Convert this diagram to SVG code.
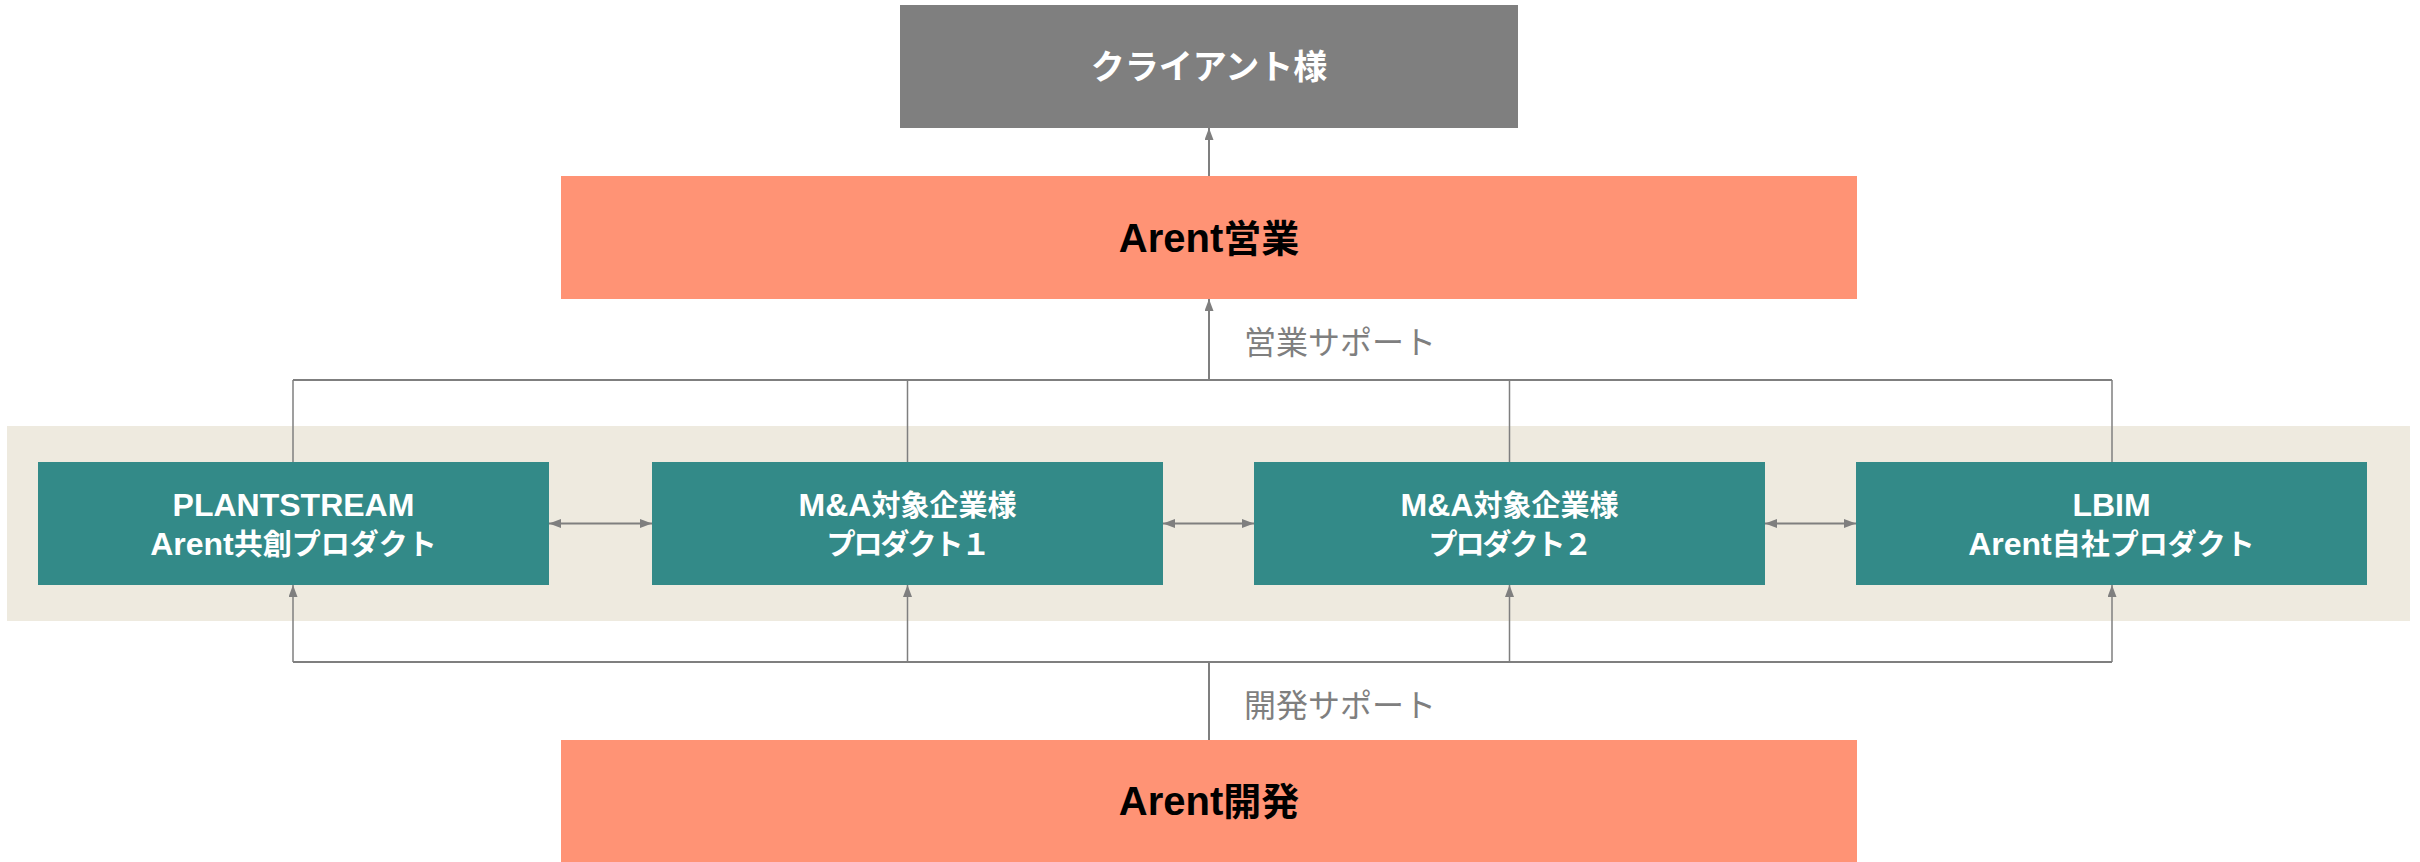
<svg xmlns="http://www.w3.org/2000/svg" width="2420" height="862" viewBox="0 0 2420 862">
  <style>
    .t { font-family: "Liberation Sans", "Noto Sans CJK JP", sans-serif; text-anchor: middle; font-weight: bold; }
    .j { font-family: "Noto Sans CJK JP", sans-serif; }
    .client { fill: #7f7f7f; }
    .arent { fill: #ff9375; }
    .prod { fill: #338a88; }
    .band { fill: #eeeadf; }
    .pt { font-size: 32px; fill: #ffffff; }
    .pj { font-size: 29px; }
    .tight { letter-spacing: -2px; }
    .big { font-size: 40px; fill: #000000; }
    .bigj { font-size: 38px; }
    .lbl { font-family: "Noto Sans CJK JP", sans-serif; font-size: 32px; fill: #7f7f7f; }
    .ln { stroke: #7f7f7f; stroke-width: 2; fill: none; }
    .br { stroke: #7f7f7f; stroke-width: 1.5; fill: none; }
  </style>
  <defs>
    <marker id="ah" markerUnits="userSpaceOnUse" markerWidth="13" markerHeight="10" refX="12" refY="4.5" orient="auto-start-reverse">
      <path d="M0,0 L12,4.5 L0,9 z" fill="#7f7f7f"/>
    </marker>
  </defs>

  <rect id="band" class="band" x="7" y="426" width="2403" height="195"/>

  <g id="connectors">
    <line class="ln" x1="1209" y1="176" x2="1209" y2="128" marker-end="url(#ah)"/>
    <line class="ln" x1="293" y1="380" x2="2112" y2="380"/>
    <line class="ln" x1="1209" y1="380" x2="1209" y2="299" marker-end="url(#ah)"/>
    <line class="br" x1="293" y1="380" x2="293" y2="462"/>
    <line class="br" x1="907.5" y1="380" x2="907.5" y2="462"/>
    <line class="br" x1="1509.5" y1="380" x2="1509.5" y2="462"/>
    <line class="br" x1="2112" y1="380" x2="2112" y2="462"/>
    <line class="ln" x1="293" y1="662" x2="2112" y2="662"/>
    <line class="ln" x1="1209" y1="740" x2="1209" y2="662"/>
    <line class="br" x1="293" y1="662" x2="293" y2="585" marker-end="url(#ah)"/>
    <line class="br" x1="907.5" y1="662" x2="907.5" y2="585" marker-end="url(#ah)"/>
    <line class="br" x1="1509.5" y1="662" x2="1509.5" y2="585" marker-end="url(#ah)"/>
    <line class="br" x1="2112" y1="662" x2="2112" y2="585" marker-end="url(#ah)"/>
    <line class="ln" x1="549" y1="523.5" x2="652" y2="523.5" marker-start="url(#ah)" marker-end="url(#ah)"/>
    <line class="ln" x1="1163" y1="523.5" x2="1254" y2="523.5" marker-start="url(#ah)" marker-end="url(#ah)"/>
    <line class="ln" x1="1765" y1="523.5" x2="1856" y2="523.5" marker-start="url(#ah)" marker-end="url(#ah)"/>
    <text class="lbl" x="1244" y="354">営業サポート</text>
    <text class="lbl" x="1244" y="717">開発サポート</text>
  </g>

  <g id="client">
    <rect class="client" x="900" y="5" width="618" height="123"/>
    <text class="t j" x="1209" y="79" font-size="34" fill="#ffffff">クライアント様</text>
  </g>

  <g id="arent-sales">
    <rect class="arent" x="561" y="176" width="1296" height="123"/>
    <text class="t big" x="1209" y="252">Arent<tspan class="j bigj">営業</tspan></text>
  </g>

  <g id="product-plantstream">
    <rect class="prod" x="38" y="462" width="511" height="123"/>
    <text class="t pt" x="293.5" y="516">PLANTSTREAM</text>
    <text class="t pt" x="293.5" y="555">Arent<tspan class="j pj">共創プロダクト</tspan></text>
  </g>

  <g id="product-ma1">
    <rect class="prod" x="652" y="462" width="511" height="123"/>
    <text class="t pt" x="907.5" y="516">M&amp;A<tspan class="j pj">対象企業様</tspan></text>
    <text class="t pt j pj tight" x="907.5" y="555">プロダクト１</text>
  </g>

  <g id="product-ma2">
    <rect class="prod" x="1254" y="462" width="511" height="123"/>
    <text class="t pt" x="1509.5" y="516">M&amp;A<tspan class="j pj">対象企業様</tspan></text>
    <text class="t pt j pj tight" x="1509.5" y="555">プロダクト２</text>
  </g>

  <g id="product-lbim">
    <rect class="prod" x="1856" y="462" width="511" height="123"/>
    <text class="t pt" x="2111.5" y="516">LBIM</text>
    <text class="t pt" x="2111.5" y="555">Arent<tspan class="j pj">自社プロダクト</tspan></text>
  </g>

  <g id="arent-dev">
    <rect class="arent" x="561" y="740" width="1296" height="123"/>
    <text class="t big" x="1209" y="815">Arent<tspan class="j bigj">開発</tspan></text>
  </g>
</svg>
